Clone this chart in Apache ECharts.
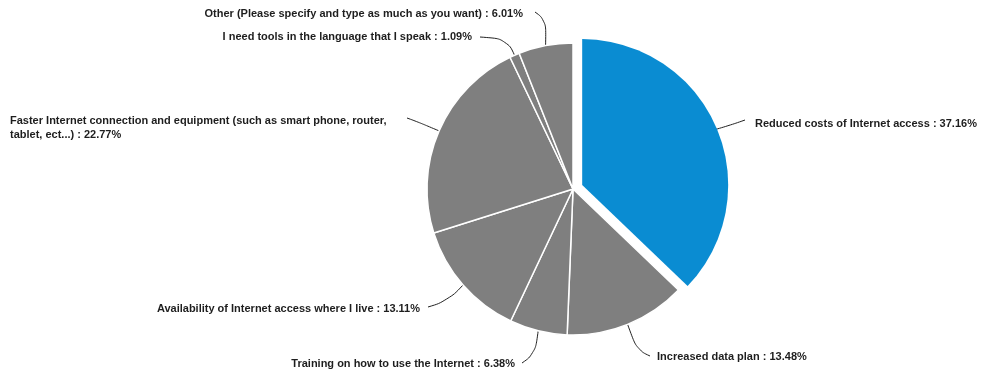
<!DOCTYPE html>
<html>
<head>
<meta charset="utf-8">
<script src="https://cdn.jsdelivr.net/npm/echarts@6/dist/echarts.min.js"></script>
<style>
  html, body { margin: 0; padding: 0; background: #ffffff; }
  #chart { width: 981px; height: 375px; }
</style>
</head>
<body>
<div id="chart"></div>
<script>
// Survey answers, clockwise from 12 o'clock
const categories = [
  'Reduced costs of Internet access',
  'Increased data plan',
  'Training on how to use the Internet',
  'Availability of Internet access where I live',
  'Faster Internet connection and equipment (such as smart phone, router, tablet, ect...)',
  'I need tools in the language that I speak',
  'Other (Please specify and type as much as you want)'
];
const shares = [37.16, 13.48, 6.38, 13.11, 22.77, 1.09, 6.01];

// Highlighted answer is pulled out of the pie
const highlighted = 0;

const BLUE = '#0a8cd2';
const GREY = '#7f7f7f';
const PULL = 10;

// Where each label sits and how its leader line bends toward it
const labelPlacement = [
  { x: 755, y: 124, align: 'left',  bend: [728, 126], end: [745, 120] },
  { x: 657, y: 357, align: 'left',  bend: [637, 350], end: [650, 356] },
  { x: 515, y: 364, align: 'right', bend: [535, 354], end: [522, 363] },
  { x: 420, y: 309, align: 'right', bend: [448, 301], end: [428, 307] },
  { x: 10,  y: 128, align: 'left',  bend: [418, 122], end: [407, 118] },
  { x: 472, y: 37,  align: 'right', bend: [507, 39],  end: [480, 37] },
  { x: 523, y: 14,  align: 'right', bend: [546, 20],  end: [535, 12] }
];

const chart = echarts.init(document.getElementById('chart'), null, { renderer: 'canvas' });

const common = {
  type: 'pie',
  center: [573, 189],
  radius: 146,
  startAngle: 90,
  clockwise: true,
  avoidLabelOverlap: false,
  emphasis: { disabled: true }
};

// Pulled-out highlighted slice (other answers hold their angle but stay invisible)
const pulledData = categories.map((name, i) => ({
  name: name,
  value: shares[i],
  selected: i === highlighted,
  itemStyle: i === highlighted
    ? { color: BLUE, borderWidth: 0 }
    : { color: 'rgba(0,0,0,0)', borderWidth: 0 }
}));

// Grey slices plus every label and leader line
const mainData = categories.map((name, i) => ({
  name: name,
  value: shares[i],
  itemStyle: i === highlighted
    ? { color: 'rgba(0,0,0,0)', borderColor: 'rgba(0,0,0,0)' }
    : { color: GREY },
  label: i === 4 ? { width: 400, overflow: 'break', lineHeight: 14 } : {}
}));

chart.setOption({
  backgroundColor: '#ffffff',
  animation: false,
  series: [
    Object.assign({}, common, {
      name: 'pulled',
      silent: true,
      selectedMode: 'single',
      selectedOffset: PULL,
      label: { show: false },
      labelLine: { show: false },
      data: pulledData
    }),
    Object.assign({}, common, {
      name: 'answers',
      selectedMode: false,
      itemStyle: { borderColor: '#ffffff', borderWidth: 1.5 },
      label: {
        show: true,
        position: 'outside',
        formatter: p => p.name + ' : ' + p.value.toFixed(2) + '%',
        fontFamily: 'Liberation Sans, Arial, sans-serif',
        fontWeight: 'bold',
        fontSize: 11,
        color: '#1e1e1e'
      },
      labelLine: {
        show: true,
        smooth: 0.45,
        lineStyle: { color: '#222222', width: 1 }
      },
      labelLayout: function (params) {
        const lp = labelPlacement[params.dataIndex];
        const start = params.labelLinePoints ? params.labelLinePoints[0] : lp.bend;
        return {
          x: lp.x,
          y: lp.y,
          align: lp.align,
          verticalAlign: 'middle',
          labelLinePoints: [start, lp.bend, lp.end]
        };
      },
      data: mainData
    })
  ]
});
</script>
</body>
</html>
